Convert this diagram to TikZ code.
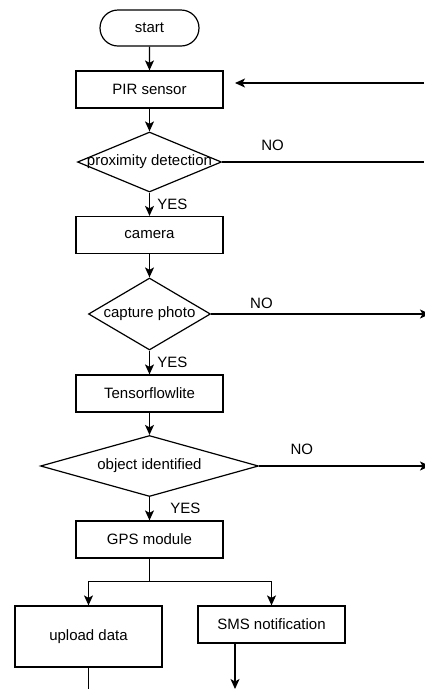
\documentclass[tikz,border=0pt]{standalone}
\usepackage{fontspec}
\setmainfont{Liberation Sans}
\usetikzlibrary{shapes,arrows,arrows.meta,positioning}

\tikzset{
  block/.style={rectangle, draw, minimum width=147pt, minimum height=37pt, inner sep=0pt},
  decision/.style={diamond, draw, inner sep=0pt},
  terminal/.style={rounded rectangle, draw, minimum width=99pt, minimum height=36pt, inner sep=0pt},
}

\begin{document}
\begin{tikzpicture}[->,>={Stealth[length=10pt,width=9pt,inset=2.5pt]},line width=1.2pt,node distance=73pt,font=\fontsize{15}{18}\selectfont,x=1pt,y=-1pt]
\useasboundingbox (0,0) rectangle (424,689);
\node [terminal] (start) at (149.5,28) {start};
\node [block] (pir) [below of=start, node distance=61.5pt] {PIR sensor};
\node [decision, minimum width=144pt, minimum height=60pt, label=center:proximity detection] (prox) [below of=pir, node distance=72.5pt] {};
\node [block] (cam) [below of=prox] {camera};
\node [decision, minimum width=122pt, minimum height=72pt, label=center:capture photo] (cap) [below of=cam, node distance=79pt] {};
\node [block] (tfl) [below of=cap, node distance=79.5pt] {Tensorflowlite};
\node [decision, minimum width=218pt, minimum height=61pt, label=center:object identified] (obj) [below of=tfl, node distance=72.5pt] {};
\node [block] (gps) [below of=obj, node distance=73.5pt] {GPS module};
\node [block, minimum height=61pt] (upload) at (88.5,636.5) {upload data};
\node [block] (sms) at (271.5,624.5) {SMS notification};
% loose ends at the border
\coordinate (backin) at (424,83);
\coordinate (backtip) at (235,83);
\coordinate (noa) at (424,162);
\coordinate (nob) at (430,314);
\coordinate (noc) at (430,466);
\coordinate (upout) at (88.5,692);
\coordinate (smsout) at (235,689);

\path (start) edge (pir);
\path (pir) edge (prox);
\path (backin) edge (backtip);
\path (prox) edge [-] node [above, pos=0.25, yshift=7pt] {NO} (noa);
\path (prox) edge node [right, xshift=4pt] {YES} (cam);
\path (cam) edge (cap);
\path (cap) edge node [above, pos=0.23, yshift=1.5pt] {NO} (nob);
\path (cap) edge node [right, xshift=4pt] {YES} (tfl);
\path (tfl) edge (obj);
\path (obj) edge node [above, pos=0.25, yshift=7pt] {NO} (noc);
\path (obj) edge node [right, xshift=17pt] {YES} (gps);
\draw (gps.south) -- ++(0,23) -| (upload.north);
\draw (gps.south) -- ++(0,23) -| (sms.north);
\path (upload) edge [-] (upout);
\draw (sms.south -| smsout) -- (smsout);
\end{tikzpicture}
\end{document}
